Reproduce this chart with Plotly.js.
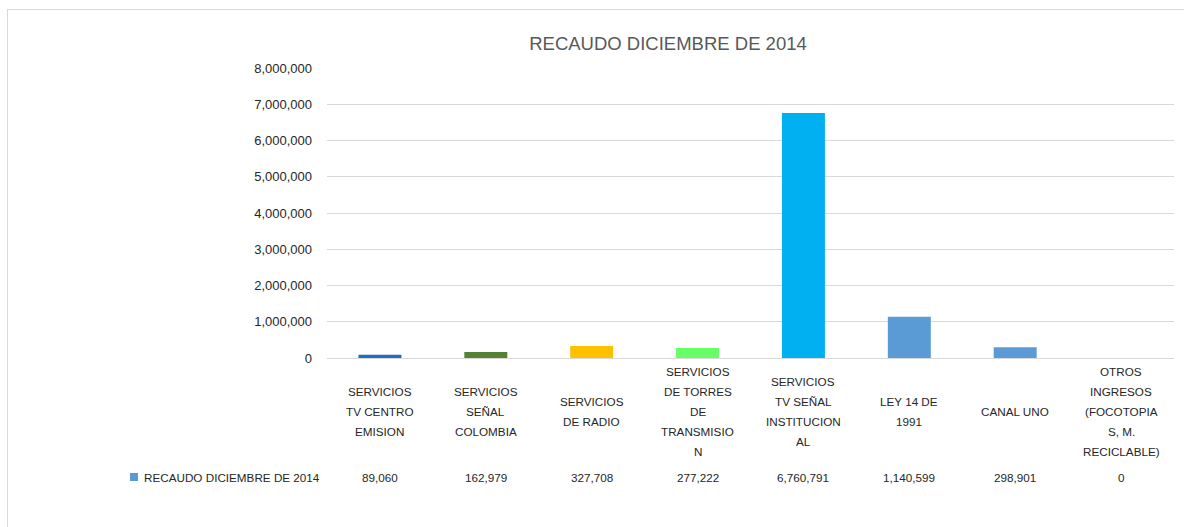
<!DOCTYPE html>
<html>
<head>
<meta charset="utf-8">
<script src="https://cdn.plot.ly/plotly-3.0.1.min.js"></script>
<style>
  html, body { margin: 0; padding: 0; background: #ffffff; }
  #wrap { position: relative; width: 1184px; height: 527px; overflow: hidden; }
  #chart { position: absolute; left: 0; top: 0; width: 1184px; height: 527px; }
  #frame { position: absolute; left: 7px; top: 9px; width: 1200px; height: 600px;
           border-left: 1px solid #d9d9d9; border-top: 1px solid #d9d9d9; pointer-events: none; }
</style>
</head>
<body>
<div id="wrap">
  <div id="chart"></div>
  <div id="frame"></div>
</div>
<script>
// ---- data ----
const categories = [
  "SERVICIOS<br>TV CENTRO<br>EMISION",
  "SERVICIOS<br>SEÑAL<br>COLOMBIA",
  "SERVICIOS<br>DE RADIO",
  "SERVICIOS<br>DE TORRES<br>DE<br>TRANSMISIO<br>N",
  "SERVICIOS<br>TV SEÑAL<br>INSTITUCION<br>AL",
  "LEY 14 DE<br>1991",
  "CANAL UNO",
  "OTROS<br>INGRESOS<br>(FOCOTOPIA<br>S, M.<br>RECICLABLE)"
];
const categoryKeys = ["c1","c2","c3","c4","c5","c6","c7","c8"];
const values = [89060, 162979, 327708, 277222, 6760791, 1140599, 298901, 0];
const barColors = ["#1F6FBF","#548235","#FFC000","#66FF66","#00B0F0","#5B9BD5","#5B9BD5","#5B9BD5"];
const seriesName = "RECAUDO DICIEMBRE DE 2014";
const chartTitle = "RECAUDO DICIEMBRE DE 2014";
const yTickVals = [0,1000000,2000000,3000000,4000000,5000000,6000000,7000000,8000000];

// ---- layout geometry ----
const W = 1184, H = 527;
const mL = 327, mR = 10, mT = 68, mB = 169;
const plotW = W - mL - mR;
const plotH = H - mT - mB;
const pxToPaperY = py => (H - mB - py) / plotH;
const pxToPaperX = px => (px - mL) / plotW;

const textFont = "Liberation Sans, Arial, sans-serif";
const textColor = "#262626";

const fmt = v => v.toLocaleString("en-US");

const annotations = [];
// category labels (vertically centred, 20px line spacing)
categories.forEach((lab, i) => {
  const lines = lab.split("<br>");
  const n = lines.length;
  lines.forEach((ln, j) => {
    annotations.push({
      xref: "x", yref: "paper", x: categoryKeys[i], y: pxToPaperY(411),
      yshift: -(j - (n - 1) / 2) * 20,
      text: ln, showarrow: false, xanchor: "center", yanchor: "middle",
      font: { family: textFont, size: 11.7, color: textColor }
    });
  });
});
// data table row
values.forEach((v, i) => {
  annotations.push({
    xref: "x", yref: "paper", x: categoryKeys[i], y: pxToPaperY(477),
    text: fmt(v), showarrow: false, xanchor: "center", yanchor: "middle",
    font: { family: textFont, size: 11.7, color: textColor }
  });
});
// series name in table row
annotations.push({
  xref: "paper", yref: "paper", x: pxToPaperX(322), y: pxToPaperY(477),
  text: seriesName,
  showarrow: false, xanchor: "right", yanchor: "middle",
  font: { family: textFont, size: 11.7, color: textColor }
});

// legend key square
const shapes = [{
  type: "rect", xref: "paper", yref: "paper",
  x0: pxToPaperX(130), x1: pxToPaperX(138),
  y0: pxToPaperY(481), y1: pxToPaperY(473),
  fillcolor: "#5B9BD5", line: { width: 0 }
}];

const trace = {
  type: "bar",
  x: categoryKeys,
  y: values,
  name: seriesName,
  marker: { color: barColors },
  hoverinfo: "y"
};

const layout = {
  width: W, height: H,
  margin: { l: mL, r: mR, t: mT, b: mB, pad: 0 },
  paper_bgcolor: "rgba(0,0,0,0)",
  plot_bgcolor: "#ffffff",
  showlegend: false,
  bargap: 0.594,
  title: {
    text: chartTitle,
    font: { family: textFont, size: 18.5, color: "#595959" },
    xref: "container", x: 668 / W, xanchor: "center",
    yref: "container", y: 1 - 44 / H, yanchor: "middle"
  },
  xaxis: {
    type: "category",
    showticklabels: false,
    showgrid: false,
    zeroline: false,
    showline: false,
    ticks: ""
  },
  yaxis: {
    range: [0, 8000000],
    tickvals: yTickVals,
    ticktext: yTickVals.map(fmt),
    showgrid: true,
    gridcolor: "#d9d9d9",
    gridwidth: 1,
    zeroline: true,
    zerolinecolor: "#d9d9d9",
    zerolinewidth: 1,
    showline: false,
    ticks: "",
    ticklabelstandoff: 14,
    tickfont: { family: textFont, size: 13, color: textColor },
    fixedrange: true
  },
  shapes: shapes,
  annotations: annotations
};

Plotly.newPlot("chart", [trace], layout, { displayModeBar: false, staticPlot: true });
</script>
</body>
</html>
